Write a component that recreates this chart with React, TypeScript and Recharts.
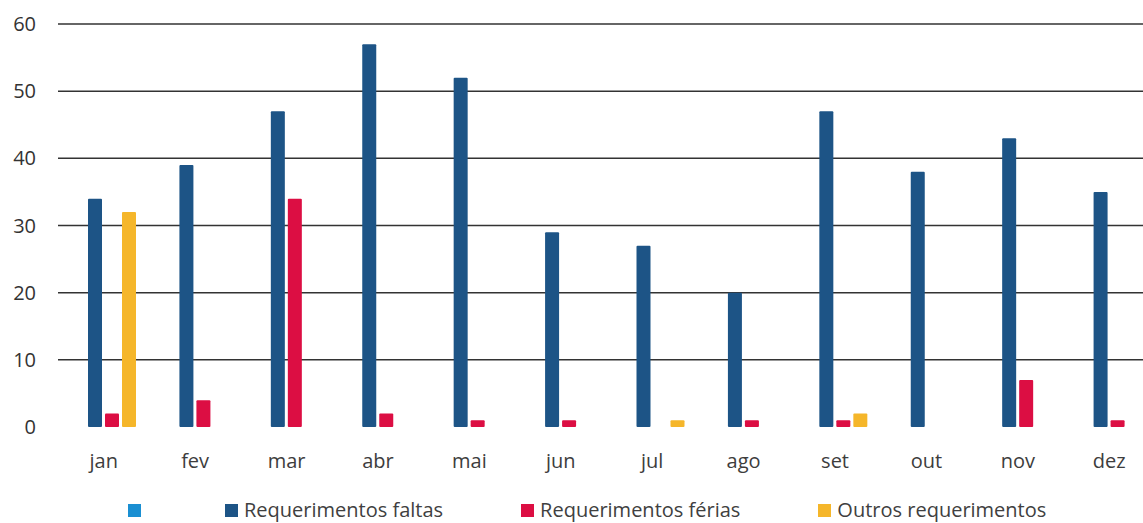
import { BarChart, Bar, XAxis, YAxis, CartesianGrid, Legend } from 'recharts'

const months = ['jan', 'fev', 'mar', 'abr', 'mai', 'jun', 'jul', 'ago', 'set', 'out', 'nov', 'dez']
const vazio = [0, 0, 0, 0, 0, 0, 0, 0, 0, 0, 0, 0]
const faltas = [34, 39, 47, 57, 52, 29, 27, 20, 47, 38, 43, 35]
const ferias = [2, 4, 34, 2, 1, 1, 0, 1, 1, 0, 7, 1]
const outros = [32, 0, 0, 0, 0, 0, 1, 0, 2, 0, 0, 0]
const yTicks = [0, 10, 20, 30, 40, 50, 60]
const gridValues = [10, 20, 30, 40, 50, 60]

const series = [
  { key: 'vazio', name: '', color: '#1a8fd2' },
  { key: 'faltas', name: 'Requerimentos faltas', color: '#1d5486' },
  { key: 'ferias', name: 'Requerimentos férias', color: '#dc0e43' },
  { key: 'outros', name: 'Outros requerimentos', color: '#f5b62a' },
]

const data = months.map((m, i) => ({
  month: m,
  vazio: vazio[i],
  faltas: faltas[i],
  ferias: ferias[i],
  outros: outros[i],
}))

const FONT = '"Open Sans", sans-serif'

function LegendRow() {
  return (
    <div
      style={{
        height: 36,
        boxSizing: 'border-box',
        paddingTop: 11,
        paddingLeft: 128,
        display: 'flex',
        fontFamily: FONT,
        fontSize: 20,
        color: '#404040',
      }}
    >
      {series.map((s) => (
        <div key={s.key} style={{ display: 'flex', alignItems: 'center', height: 24, marginRight: 78 }}>
          <span style={{ width: 13, height: 13, background: s.color, display: 'inline-block', marginRight: 6 }} />
          <span style={{ lineHeight: '24px', whiteSpace: 'nowrap' }}>{s.name}</span>
        </div>
      ))}
    </div>
  )
}

export default function App() {
  return (
    <div style={{ position: 'absolute', left: 0, top: 0, width: 1143, height: 523, overflow: 'hidden', background: '#fff' }}>
      <BarChart
        width={1155}
        height={523}
        data={data}
        margin={{ top: 24, right: 0, left: 0, bottom: 0 }}
        barSize={14}
        barGap={3}
      >
        <CartesianGrid vertical={false} horizontalValues={gridValues} stroke="#333" strokeWidth={1.5} />
        <XAxis
          dataKey="month"
          axisLine={false}
          tickLine={false}
          tickSize={0}
          tickMargin={27}
          height={60}
          tick={{ fontSize: 20, fill: '#3d3d3d', fontFamily: FONT }}
        />
        <YAxis
          domain={[0, 60]}
          ticks={yTicks}
          width={58}
          axisLine={false}
          tickLine={false}
          tickSize={0}
          tickMargin={22}
          tick={{ fontSize: 20, fill: '#333', fontFamily: FONT }}
        />
        <Legend verticalAlign="bottom" content={() => <LegendRow />} />
        {series.map((s) => (
          <Bar key={s.key} dataKey={s.key} name={s.name} fill={s.color} radius={1} isAnimationActive={false} />
        ))}
      </BarChart>
    </div>
  )
}
